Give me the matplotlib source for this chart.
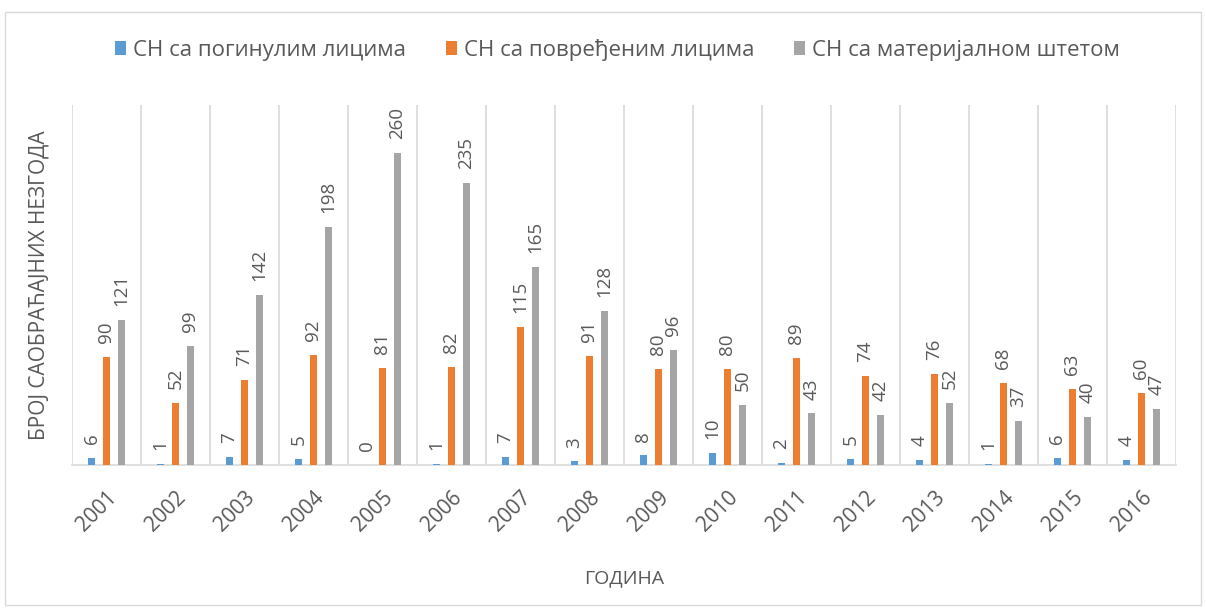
import matplotlib
matplotlib.use('Agg')
import matplotlib.pyplot as plt
import numpy as np
from matplotlib.patches import Rectangle

years = ['2001', '2002', '2003', '2004', '2005', '2006', '2007', '2008',
         '2009', '2010', '2011', '2012', '2013', '2014', '2015', '2016']
killed = [6, 1, 7, 5, 0, 1, 7, 3, 8, 10, 2, 5, 4, 1, 6, 4]
injured = [90, 52, 71, 92, 81, 82, 115, 91, 80, 80, 89, 74, 76, 68, 63, 60]
damage = [121, 99, 142, 198, 260, 235, 165, 128, 96, 50, 43, 42, 52, 37, 40, 47]

series_names = ['СН са погинулим лицима', 'СН са повређеним лицима', 'СН са материјалном штетом']
colors = ['#5B9BD5', '#ED7D31', '#A5A5A5']
text_color = '#595959'

plt.rcParams['font.family'] = ['Open Sans', 'DejaVu Sans']

fig = plt.figure(figsize=(12.06, 6.10), dpi=100)
ax = fig.add_axes([0.0597, 0.2377, 0.9153, 0.5903])

x = np.arange(len(years))
step = 0.217
width = 0.1
for i, (vals, name, c) in enumerate(zip([killed, injured, damage], series_names, colors)):
    pos = x + (i - 1) * step
    bars = ax.bar(pos, vals, width, color=c, label=name, zorder=3)
    for b, v in zip(bars, vals):
        ax.annotate(str(v), (b.get_x() + b.get_width() / 2, v),
                    xytext=(0, 10), textcoords='offset points',
                    rotation=90, ha='center', va='bottom',
                    fontsize=13.5, color=text_color)

ax.set_xlim(-0.5, len(years) - 0.5)
ax.set_ylim(0, 300)
ax.set_yticks([])
ax.set_xticks(x)
ax.set_xticklabels(years, rotation=45, ha='right', rotation_mode='anchor',
                   fontsize=15, color=text_color)
ax.tick_params(axis='x', length=0, pad=16)

# vertical gridlines between categories
for b in np.arange(-0.5, len(years), 1.0):
    ax.axvline(b, color='#D9D9D9', lw=1.2, zorder=1)

for s in ['top', 'right', 'left']:
    ax.spines[s].set_visible(False)
ax.spines['bottom'].set_color('#D9D9D9')
ax.spines['bottom'].set_linewidth(1.2)

ax.set_xlabel('ГОДИНА', fontsize=14, color=text_color, labelpad=24)
ax.set_ylabel('БРОЈ САОБРАЋАЈНИХ НЕЗГОДА', fontsize=15, color=text_color, labelpad=16)

fig.legend(loc='center', bbox_to_anchor=(0.512, 0.918), ncol=3, frameon=False,
           fontsize=16, handlelength=0.5, handleheight=0.6, handletextpad=0.3,
           columnspacing=1.8, labelcolor=text_color)

# outer chart border
fig.patches.append(Rectangle((0.004, 0.008), 0.992, 0.972, transform=fig.transFigure,
                             fill=False, edgecolor='#D9D9D9', lw=1.0))

plt.savefig('out.png', dpi=100)
plt.close()
